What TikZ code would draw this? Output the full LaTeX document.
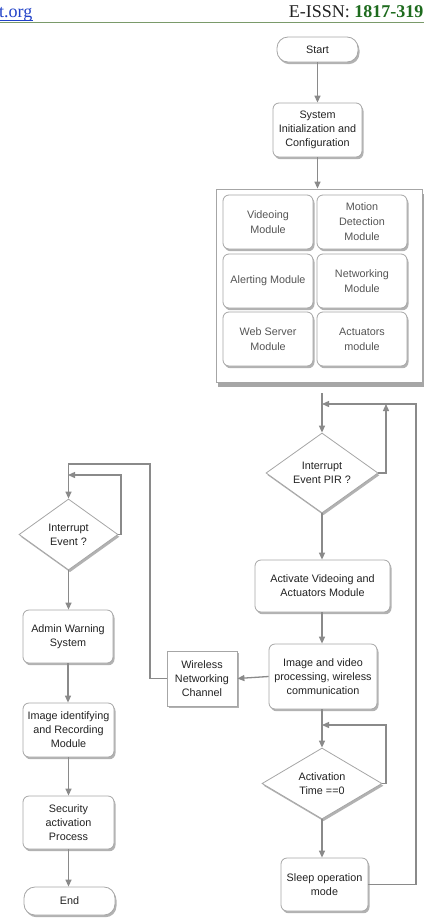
\documentclass[tikz,border=0pt]{standalone}
\usepackage{fontspec}
\setmainfont{Liberation Sans}
\newfontfamily\hdrfont{Liberation Serif}
\usetikzlibrary{arrows.meta,shapes.geometric,shadows}
\definecolor{linec}{HTML}{8A8A8A}
\definecolor{boxb}{HTML}{A6A6A6}
\definecolor{txt}{HTML}{222222}
\definecolor{modtxt}{HTML}{555555}
\definecolor{hdrgreen}{HTML}{1E6B1E}
\definecolor{hdrline}{HTML}{7A9A6A}
\definecolor{linkblue}{HTML}{2242C8}
\begin{document}
\begin{tikzpicture}[x=1pt,y=-1pt,
  font=\fontsize{10.8}{14}\selectfont,
  shad/.style={drop shadow={shadow xshift=1.5pt,shadow yshift=-2.2pt,opacity=0.3,fill=black}},
  box/.style={draw=boxb,line width=0.8pt,fill=white,rounded corners=6pt,align=center,text=txt,inner sep=1pt,shad},
  term/.style={box,rounded corners=11pt},
  sqbox/.style={box,rounded corners=0pt},
  mod/.style={box,text=modtxt,minimum width=90pt,minimum height=54pt,font=\fontsize{10.8}{15}\selectfont},
  dia/.style={diamond,draw=boxb,line width=0.8pt,fill=white,aspect=1.4,inner sep=0pt,align=center,text=txt,shad},
  arr/.style={draw=linec,line width=1.3pt,-{Triangle[length=7pt,width=6pt]}},
  ln/.style={draw=linec,line width=1.3pt}
]
\useasboundingbox (0,0) rectangle (424,924);
% header
\node[anchor=base west,inner sep=0pt,font=\hdrfont\fontsize{18}{20}\selectfont,text=linkblue] (url) at (-1,17) {t.org};
\draw[linkblue,line width=0.9pt] ([yshift=-3pt]url.base west) -- ([yshift=-3pt]url.base east);
\node[anchor=base east,inner sep=0pt,font=\hdrfont\fontsize{18}{20}\selectfont,text=txt] (issn) at (423.5,17) {E-ISSN: \textcolor{hdrgreen}{\bfseries 1817-319}};
\draw[hdrline,line width=1.3pt] (0,22.5) -- (424,22.5);

% right main column
\node[term,minimum width=81pt,minimum height=25pt] (start) at (317.5,49.5) {Start};
\node[box,minimum width=89pt,minimum height=54pt] (init) at (317.5,130) {System\\Initialization and\\Configuration};
\node[draw=boxb,line width=0.8pt,fill=white,minimum width=206pt,minimum height=193pt,inner sep=0pt,
      drop shadow={shadow xshift=2pt,shadow yshift=-4.5pt,opacity=0.35,fill=black}] (cont) at (319,285.5) {};
\node[mod] (m1) at (268,222) {Videoing\\Module};
\node[mod] (m2) at (362,222) {Motion\\Detection\\Module};
\node[mod] (m3) at (268,281) {Alerting Module};
\node[mod] (m4) at (362,281) {Networking\\Module};
\node[mod] (m5) at (268,339) {Web Server\\Module};
\node[mod] (m6) at (362,339) {Actuators\\module};

\node[dia,minimum width=112pt,minimum height=80pt] (pir) at (322,473) {Interrupt\\Event PIR ?};
\node[box,minimum width=135pt,minimum height=52pt] (actv) at (322.5,586) {Activate Videoing and\\Actuators Module};
\node[box,minimum width=108pt,minimum height=65pt] (img) at (323,676.5) {Image and video\\processing, wireless\\communication};
\node[sqbox,minimum width=70pt,minimum height=55pt] (wl) at (202,678.5) {Wireless\\Networking\\Channel};
\node[dia,minimum width=120pt,minimum height=71pt] (act) at (322,783.5) {Activation\\Time ==0};
\node[box,minimum width=87pt,minimum height=53pt] (sleep) at (324.5,884.5) {Sleep operation\\mode};

% left column
\node[dia,minimum width=99pt,minimum height=71pt] (ldia) at (68.5,534.5) {Interrupt\\Event ?};
\node[box,minimum width=90pt,minimum height=53pt] (admin) at (68,636.5) {Admin Warning\\System};
\node[box,minimum width=91pt,minimum height=54pt] (imid) at (68.5,730) {Image identifying\\and Recording\\Module};
\node[box,minimum width=91pt,minimum height=53pt] (sec) at (68.5,822.5) {Security\\activation\\Process};
\node[term,minimum width=91pt,minimum height=28pt] (end) at (69.5,901) {End};

% coordinates
\coordinate (entry) at (322,393);
\coordinate (topin) at (322,404);
\coordinate (pirup) at (386,404);
\coordinate (rtop) at (416,404);
\coordinate (actup) at (386,725);
\coordinate (actin) at (322,725);
\coordinate (lout) at (150,464);
\coordinate (lin) at (121,475);
\coordinate (linend) at (68,475);

% connectors
\draw[arr] (start) -- (init);
\draw[arr] (init.south) -- (init.south |- cont.north);
\draw[arr] (entry) -- (pir.north);
\draw[arr] (sleep.east) -| (rtop) -- (topin);
\draw[arr] (pir.east) -| (pirup);
\draw[arr] (pir.south) -- (pir.south |- actv.north);
\draw[arr] ([xshift=-1pt]actv.south -| img.north) -- ([xshift=-1pt]img.north);
\draw[arr] (img.west) -- (wl.east);
\draw[arr] (img.south -| act.north) -- (act.north);
\draw[arr] (act.east) -| (actup) -- (actin);
\draw[arr] (act.south) -- (act.south |- sleep.north);

\draw[arr] (wl.west) -| (lout) -| (ldia.north);
\draw[arr] (ldia.east) -| (lin) -- (linend);
\draw[arr] (ldia.south) -- (ldia.south |- admin.north);
\draw[arr] ([xshift=-0.5pt]admin.south -| imid.north) -- ([xshift=-0.5pt]imid.north);
\draw[arr] (imid) -- (sec);
\draw[arr] (sec.south) -- (sec.south |- end.north);
\end{tikzpicture}
\end{document}
